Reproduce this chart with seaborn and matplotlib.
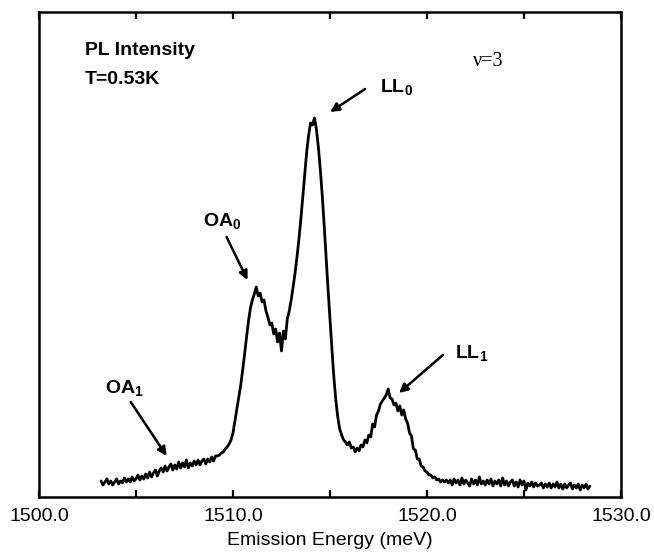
import numpy as np
import pandas as pd
import matplotlib
matplotlib.use("Agg")
import matplotlib.pyplot as plt
import seaborn as sns
from matplotlib.ticker import MultipleLocator, FormatStrFormatter

# ---- data (intensity in arbitrary units) ----
energy_meV = [
    1503.2, 1503.3, 1503.4, 1503.5, 1503.6, 1503.7, 1503.8, 1503.9, 1504.0, 1504.1,
    1504.2, 1504.3, 1504.4, 1504.5, 1504.6, 1504.7, 1504.8, 1504.9, 1505.0, 1505.1,
    1505.2, 1505.3, 1505.4, 1505.5, 1505.6, 1505.7, 1505.8, 1505.9, 1506.0, 1506.1,
    1506.2, 1506.3, 1506.4, 1506.5, 1506.6, 1506.7, 1506.8, 1506.9, 1507.0, 1507.1,
    1507.2, 1507.3, 1507.4, 1507.5, 1507.6, 1507.7, 1507.8, 1507.9, 1508.0, 1508.1,
    1508.2, 1508.3, 1508.4, 1508.5, 1508.6, 1508.7, 1508.8, 1508.9, 1509.0, 1509.1,
    1509.2, 1509.3, 1509.4, 1509.5, 1509.6, 1509.7, 1509.8, 1509.9, 1510.0, 1510.1,
    1510.2, 1510.3, 1510.4, 1510.5, 1510.6, 1510.7, 1510.8, 1510.9, 1511.0, 1511.1,
    1511.2, 1511.3, 1511.4, 1511.5, 1511.6, 1511.7, 1511.8, 1511.9, 1512.0, 1512.1,
    1512.2, 1512.3, 1512.4, 1512.5, 1512.6, 1512.7, 1512.8, 1512.9, 1513.0, 1513.1,
    1513.2, 1513.3, 1513.4, 1513.5, 1513.6, 1513.7, 1513.8, 1513.9, 1514.0, 1514.1,
    1514.2, 1514.3, 1514.4, 1514.5, 1514.6, 1514.7, 1514.8, 1514.9, 1515.0, 1515.1,
    1515.2, 1515.3, 1515.4, 1515.5, 1515.6, 1515.7, 1515.8, 1515.9, 1516.0, 1516.1,
    1516.2, 1516.3, 1516.4, 1516.5, 1516.6, 1516.7, 1516.8, 1516.9, 1517.0, 1517.1,
    1517.2, 1517.3, 1517.4, 1517.5, 1517.6, 1517.7, 1517.8, 1517.9, 1518.0, 1518.1,
    1518.2, 1518.3, 1518.4, 1518.5, 1518.6, 1518.7, 1518.8, 1518.9, 1519.0, 1519.1,
    1519.2, 1519.3, 1519.4, 1519.5, 1519.6, 1519.7, 1519.8, 1519.9, 1520.0, 1520.1,
    1520.2, 1520.3, 1520.4, 1520.5, 1520.6, 1520.7, 1520.8, 1520.9, 1521.0, 1521.1,
    1521.2, 1521.3, 1521.4, 1521.5, 1521.6, 1521.7, 1521.8, 1521.9, 1522.0, 1522.1,
    1522.2, 1522.3, 1522.4, 1522.5, 1522.6, 1522.7, 1522.8, 1522.9, 1523.0, 1523.1,
    1523.2, 1523.3, 1523.4, 1523.5, 1523.6, 1523.7, 1523.8, 1523.9, 1524.0, 1524.1,
    1524.2, 1524.3, 1524.4, 1524.5, 1524.6, 1524.7, 1524.8, 1524.9, 1525.0, 1525.1,
    1525.2, 1525.3, 1525.4, 1525.5, 1525.6, 1525.7, 1525.8, 1525.9, 1526.0, 1526.1,
    1526.2, 1526.3, 1526.4, 1526.5, 1526.6, 1526.7, 1526.8, 1526.9, 1527.0, 1527.1,
    1527.2, 1527.3, 1527.4, 1527.5, 1527.6, 1527.7, 1527.8, 1527.9, 1528.0, 1528.1,
    1528.2, 1528.3, 1528.4,
]
pl_intensity = [
    16, 12, 15, 18, 13, 16, 12, 15, 18, 13,
    16, 14, 19, 15, 18, 15, 20, 16, 18, 22,
    17, 21, 18, 23, 19, 25, 20, 24, 27, 21,
    26, 29, 25, 31, 26, 30, 33, 27, 32, 28,
    35, 29, 34, 30, 37, 29, 34, 31, 36, 32,
    37, 32, 36, 38, 33, 38, 35, 40, 36, 41,
    41, 42, 44, 45, 48, 50, 53, 57, 64, 76,
    88, 100, 112, 127, 143, 160, 176, 189, 197, 203,
    210, 201, 204, 195, 197, 186, 180, 172, 174, 163,
    168, 155, 164, 146, 166, 158, 178, 186, 197, 210,
    224, 240, 258, 278, 300, 322, 345, 362, 374, 372,
    379, 368, 350, 328, 302, 272, 240, 208, 178, 148,
    120, 97, 80, 68, 62, 57, 55, 52, 55, 49,
    50, 45, 49, 46, 52, 50, 57, 54, 62, 60,
    73, 70, 82, 86, 93, 96, 99, 102, 108, 99,
    98, 92, 94, 86, 91, 82, 87, 78, 74, 64,
    61, 48, 47, 38, 38, 31, 30, 26, 25, 22,
    22, 19, 20, 17, 18, 15, 17, 15, 17, 14,
    17, 12, 18, 14, 17, 12, 19, 13, 17, 14,
    11, 18, 13, 17, 12, 20, 13, 16, 12, 17,
    13, 18, 11, 16, 13, 17, 11, 19, 12, 16,
    11, 15, 17, 11, 15, 10, 17, 12, 16, 7,
    14, 11, 15, 10, 14, 11, 12, 14, 9, 13,
    10, 14, 9, 13, 10, 15, 9, 13, 8, 13,
    9, 12, 14, 8, 12, 9, 13, 7, 12, 9,
    13, 8, 11,
]
x_tick_values = [1500.0, 1510.0, 1520.0, 1530.0]
x_label = "Emission Energy (meV)"
panel_texts = ["PL Intensity", "T=0.53K"]
filling_text = "\u03bd=3"
peak_labels = [r"$\mathbf{LL}_\mathbf{0}$", r"$\mathbf{OA}_\mathbf{0}$",
               r"$\mathbf{LL}_\mathbf{1}$", r"$\mathbf{OA}_\mathbf{1}$"]

df = pd.DataFrame({"E": energy_meV, "I": pl_intensity})

# ---- style ----
sns.set_style("white")
plt.rcParams["font.family"] = ["Liberation Sans", "DejaVu Sans"]
plt.rcParams["mathtext.fontset"] = "custom"
plt.rcParams["mathtext.rm"] = "Liberation Sans"
plt.rcParams["mathtext.bf"] = "Liberation Sans:bold"
plt.rcParams["text.color"] = "black"
plt.rcParams["axes.labelcolor"] = "black"
plt.rcParams["xtick.color"] = "black"

fig = plt.figure(figsize=(6.54, 5.53), dpi=100)
ax = fig.add_axes([0.0596, 0.1013, 0.8899, 0.877])

sns.lineplot(data=df, x="E", y="I", ax=ax, color="black", linewidth=2.0,
             estimator=None, sort=False)

ax.set_xlim(1500, 1530)
ax.set_ylim(0, 485)
ax.set_yticks([])
ax.set_ylabel("")
ax.set_xticks(x_tick_values)
ax.xaxis.set_major_formatter(FormatStrFormatter("%.1f"))
ax.xaxis.set_minor_locator(MultipleLocator(5))
ax.tick_params(axis="x", which="both", direction="in", top=True, bottom=True,
               length=5, width=1.6, color="black")
ax.tick_params(axis="x", which="major", labelsize=14, pad=8, labelcolor="black")
ax.set_xlabel(x_label, fontsize=14, labelpad=5, color="black")
for s in ax.spines.values():
    s.set_visible(True)
    s.set_linewidth(1.8)
    s.set_color("black")

# ---- texts ----
ax.text(1502.37, 446, panel_texts[0], fontsize=14, fontweight="bold",
        ha="left", va="center", color="black")
ax.text(1502.37, 417, panel_texts[1], fontsize=14, fontweight="bold",
        ha="left", va="center", color="black")
ax.text(1522.37, 435, filling_text, fontsize=14.5, family="Liberation Serif",
        ha="left", va="center", color="black")

arrow_kw = dict(arrowstyle="-|>", lw=1.8, color="black", mutation_scale=13,
                shrinkA=0, shrinkB=0)
# LL0
ax.text(1517.58, 409, peak_labels[0], fontsize=14, ha="left", va="center", color="black")
ax.annotate("", xy=(1515.01, 385), xytext=(1516.81, 408), arrowprops=arrow_kw)
# OA0
ax.text(1508.48, 275, peak_labels[1], fontsize=14, ha="left", va="center", color="black")
ax.annotate("", xy=(1510.75, 217), xytext=(1509.67, 260), arrowprops=arrow_kw)
# LL1
ax.text(1521.44, 143, peak_labels[2], fontsize=14, ha="left", va="center", color="black")
ax.annotate("", xy=(1518.56, 104), xytext=(1520.82, 142), arrowprops=arrow_kw)
# OA1
ax.text(1503.4, 108, peak_labels[3], fontsize=14, ha="left", va="center", color="black")
ax.annotate("", xy=(1506.58, 41), xytext=(1504.73, 95), arrowprops=arrow_kw)

fig.savefig("out.png", dpi=100)
